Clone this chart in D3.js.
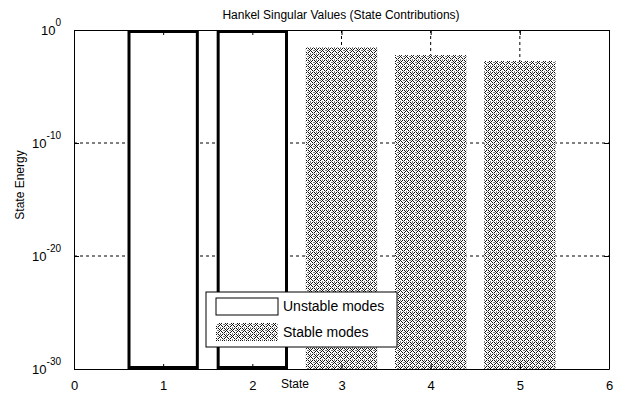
<!DOCTYPE html>
<html>
<head>
<meta charset="utf-8">
<script src="https://cdn.jsdelivr.net/npm/d3@7"></script>
<style>
  body { margin: 0; background: #fff; }
  text { font-family: "Liberation Sans", Arial, sans-serif; fill: #000; }
</style>
</head>
<body>
<div id="chart"></div>
<script>
// state index and Hankel singular values (Inf = unstable mode)
const states = [1, 2, 3, 4, 5];
const energy = [Infinity, Infinity, 0.03, 0.006, 0.0018];
const stable = [false, false, true, true, true];
const xTicks = [0, 1, 2, 3, 4, 5, 6];
const yTicks = [1, 1e-10, 1e-20, 1e-30];
const yExps = ['0', '-10', '-20', '-30'];

const width = 626, height = 395;
const margin = { top: 30, right: 17, bottom: 26, left: 74 };
const w = width - margin.left - margin.right;
const h = height - margin.top - margin.bottom;

const svg = d3.select('#chart').append('svg')
  .attr('width', width)
  .attr('height', height);

// hatch pattern for stable modes
const defs = svg.append('defs');
const pat = defs.append('pattern')
  .attr('id', 'hatch')
  .attr('patternUnits', 'userSpaceOnUse')
  .attr('width', 6).attr('height', 6);
pat.append('rect').attr('width', 6).attr('height', 6).attr('fill', '#fff');
[[0,0],[1,1],[2,2],[3,3],[4,4],[4,0],[3,1],[1,3],[0,4]].forEach(p => {
  pat.append('rect').attr('x', p[0]).attr('y', p[1]).attr('width', 1).attr('height', 1)
    .attr('fill', '#111');
});
[[2,5],[5,2],[5,5],[2,0],[0,2]].forEach(p => {
  pat.append('rect').attr('x', p[0]).attr('y', p[1]).attr('width', 1).attr('height', 1)
    .attr('fill', '#777');
});

const graph = svg.append('g')
  .attr('transform', `translate(${margin.left}, ${margin.top})`);

const x = d3.scaleLinear().domain([0, 6]).range([0, w]);
const y = d3.scaleLog().domain([1e-30, 1]).range([h, 0]).clamp(true);

// grid
graph.append('g').selectAll('line').data(states).enter().append('line')
  .attr('x1', d => x(d)).attr('x2', d => x(d))
  .attr('y1', 0).attr('y2', h)
  .attr('stroke', '#000').attr('stroke-dasharray', '3,3');
graph.append('g').selectAll('line').data([1e-10, 1e-20]).enter().append('line')
  .attr('x1', 0).attr('x2', w)
  .attr('y1', d => y(d)).attr('y2', d => y(d))
  .attr('stroke', '#000').attr('stroke-dasharray', '3,3');

// bars
const bw = x(0.8) - x(0);
const bars = states.map((s, i) => ({ s, v: energy[i], stable: stable[i] }));
graph.selectAll('rect.bar').data(bars).enter().append('rect')
  .attr('class', 'bar')
  .attr('x', d => x(d.s) - bw / 2 + (d.stable ? 0 : 1.5))
  .attr('y', d => y(d.v) + (d.stable ? 0 : 1.5))
  .attr('width', d => d.stable ? bw : bw - 3)
  .attr('height', d => y(1e-30) - y(d.v) - (d.stable ? 0 : 3))
  .attr('fill', d => d.stable ? 'url(#hatch)' : '#fff')
  .attr('stroke', d => d.stable ? 'none' : '#000')
  .attr('stroke-width', 3);

// axes box with inward ticks
const axisStyle = g => {
  g.selectAll('.domain').attr('stroke', '#000');
  g.selectAll('.tick line').attr('stroke', '#000');
};
graph.append('g').attr('transform', `translate(0,${h})`)
  .call(d3.axisBottom(x).tickValues(xTicks).tickFormat(d3.format('d'))
    .tickSizeInner(-5).tickSizeOuter(0).tickPadding(12))
  .call(axisStyle)
  .call(g => g.selectAll('text').attr('font-size', 13).attr('font-family', 'Liberation Sans, Arial'));
graph.append('g')
  .call(d3.axisTop(x).tickValues(xTicks).tickSizeInner(-5).tickSizeOuter(0).tickFormat(''))
  .call(axisStyle);
graph.append('g')
  .call(d3.axisLeft(y).tickValues(yTicks).tickSizeInner(-5).tickSizeOuter(0).tickFormat(''))
  .call(axisStyle);
graph.append('g').attr('transform', `translate(${w},0)`)
  .call(d3.axisRight(y).tickValues(yTicks).tickSizeInner(-5).tickSizeOuter(0).tickFormat(''))
  .call(axisStyle);

// y tick labels with exponents
const yl = graph.append('g').selectAll('text').data(yTicks).enter().append('text')
  .attr('x', -13).attr('y', d => y(d) + 5)
  .attr('text-anchor', 'end')
  .attr('font-size', 13);
yl.append('tspan').text('10');
yl.append('tspan').attr('dy', -9).attr('font-size', 10).text((d, i) => yExps[i]);

// legend
const leg = graph.append('g').attr('transform', `translate(${206 - margin.left},${292 - margin.top})`);
leg.append('rect').attr('width', 191).attr('height', 55)
  .attr('fill', '#fff').attr('stroke', '#000');
leg.append('rect').attr('x', 10).attr('y', 6).attr('width', 62).attr('height', 17)
  .attr('fill', '#fff').attr('stroke', '#000');
leg.append('rect').attr('x', 10).attr('y', 31).attr('width', 62).attr('height', 18)
  .attr('fill', 'url(#hatch)');
leg.append('text').attr('x', 77).attr('y', 19).attr('font-size', 14).text('Unstable modes');
leg.append('text').attr('x', 77).attr('y', 45).attr('font-size', 14).text('Stable modes');

// titles
svg.append('text').attr('x', 341).attr('y', 19).attr('text-anchor', 'middle')
  .attr('font-size', 12).text('Hankel Singular Values (State Contributions)');
svg.append('text').attr('x', 295).attr('y', 388).attr('text-anchor', 'middle')
  .attr('font-size', 12).text('State');
svg.append('text').attr('transform', 'translate(24,185) rotate(-90)')
  .attr('text-anchor', 'middle').attr('font-size', 12).text('State Energy');
</script>
</body>
</html>
